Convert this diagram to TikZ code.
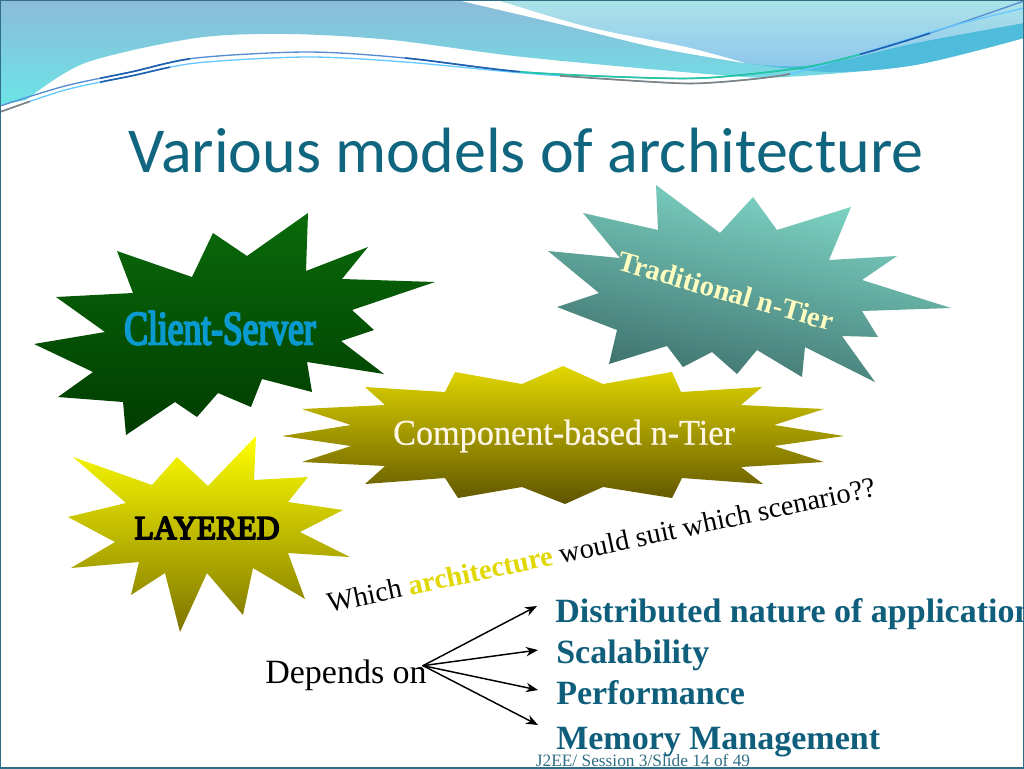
\documentclass[tikz,border=0pt]{standalone}
\usepackage{fontspec}
\setmainfont{Liberation Serif}
\newfontfamily\titlefont{Carlito}
\newfontfamily\heavyfont[FakeBold=4,FakeStretch=0.74]{Liberation Serif}
\newfontfamily\layerfont[FakeBold=5,FakeStretch=0.95]{Liberation Serif}
\newfontfamily\compfont[FakeBold=0.5,FakeStretch=0.95]{Liberation Serif}
\usepackage{pgf,tikz}
\usetikzlibrary{arrows.meta}
\definecolor{framecol}{HTML}{2F6F86}
\definecolor{titlecol}{HTML}{10657F}
\definecolor{listcol}{HTML}{0F5F7C}
\definecolor{archcol}{HTML}{E0D800}
\definecolor{bandcol}{HTML}{4FBCDC}
\definecolor{waveblue}{HTML}{1F5FB0}
\definecolor{wavegreen}{HTML}{1FC8A0}
\newcommand{\upperwave}{plot[smooth] coordinates {(0,106) (65,86) (131,72) (196,58) (307,52) (405,58) (523,72) (654,78) (719,77) (817,65) (915,38) (1024,1)}}
\newcommand{\lowerwave}{plot[smooth] coordinates {(0,112) (65,90) (131,76) (196,63) (307,57) (405,62) (523,73) (654,82) (706,83) (784,75) (850,57) (948,27) (1024,8)}}
\tikzset{
  burst/.style={shading angle=0},
  listitem/.style={font=\bfseries\fontsize{25.5}{28}\selectfont,text=listcol,anchor=west,inner ysep=0pt,inner xsep=13.5pt},
  fanline/.style={-{Stealth[length=9pt,width=7pt]},line width=1.1pt,black}
}
\begin{document}
\begin{tikzpicture}
    [line cap=round,line join=round,x=0.75pt,y=-0.75pt]
\useasboundingbox (0,0) rectangle (1024,768);
\clip (0,0) rectangle (1024,768);
%background with the waves
\fill[white] (0,0) rectangle (1024,768);
\shade[top color={rgb,255:red,139;green,187;blue,216},bottom color={rgb,255:red,108;green,228;blue,230}]
  (0,0) -- (0,105) -- plot[smooth] coordinates {(26,100) (85,63) (196,38) (288,34) (392,40) (523,57) (719,75) (784,77) (915,65) (1024,38)} -- (1024,0) -- cycle;
\fill[bandcol] plot[smooth] coordinates {(745,63) (817,65) (915,43) (1024,23)} -- (1024,38) -- plot[smooth] coordinates {(1024,38) (915,65) (830,72) (745,63)} -- cycle;
\shade[top color={rgb,255:red,171;green,227;blue,232},bottom color={rgb,255:red,142;green,198;blue,238}]
  plot[smooth] coordinates {(497,0) (588,27) (686,47) (745,63) (817,65) (915,43) (1024,23)} -- (1024,0) -- cycle;
\fill[white] plot[smooth] coordinates {(457,0) (555,23) (653,47) (738,62)} -- plot[smooth] coordinates {(745,63) (686,47) (588,27) (497,0)} -- cycle;
%the thin lines, recoloured piece by piece
\draw[cyan!50!blue!70!white,line width=1pt] \upperwave;
\draw[blue!35!cyan!60!white,line width=1pt] \lowerwave;
\foreach \xa/\xb/\wavecol in {100/190/waveblue,405/520/waveblue,520/860/wavegreen,860/930/waveblue}{
  \begin{scope}
    \clip (\xa,0) rectangle (\xb,130);
    \draw[\wavecol,line width=1.2pt] \upperwave;
  \end{scope}
}
\foreach \xa/\xb/\wavecol in {0/30/gray,560/790/gray,100/170/waveblue}{
  \begin{scope}
    \clip (\xa,0) rectangle (\xb,130);
    \draw[\wavecol,line width=1.2pt] \lowerwave;
  \end{scope}
}
\draw[framecol,line width=1pt] (0,0) rectangle (1024,768);
%the title
\node (title) at (526,151) [inner sep=0pt,text=titlecol] {\titlefont\fontsize{48}{54}\selectfont Various models of architecture};
%the stars
\shade[top color={rgb,255:red,130;green,220;blue,203},bottom color={rgb,255:red,61;green,111;blue,107},shading angle=-12]
  (656,185)--(658,230)--(583,213)--(620,258)--(548,251)--(599,293)--(557,307)--(617,330)--(609,364)--(667,346)--(683,367)--(712,352)--(737,374)--(757,350)--(802,377)--(805,347)--(875,382)--(842,336)--(878,337)--(862,311)--(951,308)--(862,280)--(897,256)--(829,260)--(851,207)--(777,230)--(753,197)--(720,233)--cycle;
\shade[burst,top color={rgb,255:red,10;green,106;blue,10},bottom color={rgb,255:red,0;green,60;blue,0}]
  (308,213)--(306,271)--(368,247)--(342,279)--(435,282)--(352,310)--(374,330)--(341,341)--(384,374)--(307,362)--(312,392)--(262,379)--(251,407)--(218,393)--(197,417)--(175,402)--(126,435)--(123,402)--(58,397)--(93,372)--(34,344)--(105,332)--(56,297)--(133,293)--(117,251)--(192,277)--(213,233)--(247,256)--cycle;
\shade[burst,top color={rgb,255:red,255;green,255;blue,0},bottom color={rgb,255:red,125;green,116;blue,0}]
  (256,436)--(254,480)--(308,477)--(288,502)--(343,510)--(300,532)--(350,557)--(288,553)--(305,599)--(253,568)--(243,615)--(207,573)--(180,632)--(165,573)--(131,595)--(139,562)--(71,568)--(115,542)--(68,517)--(126,503)--(73,457)--(152,485)--(177,457)--(208,486)--cycle;
\shade[burst,top color={rgb,255:red,226;green,216;blue,0},bottom color={rgb,255:red,95;green,84;blue,0}]
  (563,366)--(603,384)--(672,372)--(681,392)--(762,387)--(741,405)--(824,409)--(774,425)--(844,436)--(774,446)--(824,462)--(741,467)--(763,484)--(682,478)--(672,498)--(603,487)--(565,504)--(522,487)--(458,498)--(445,478)--(365,484)--(385,466)--(302,462)--(351,446)--(282,436)--(351,425)--(302,409)--(385,405)--(365,387)--(445,392)--(455,372)--(522,384)--cycle;
%the labels
\node (client) at (220,328) [inner sep=0pt,text={rgb,255:red,10;green,154;blue,208}] {\heavyfont\fontsize{36}{40}\selectfont Client-Server};
\node (traditional) at (726,291) [inner sep=0pt,rotate=-16,text={rgb,255:red,255;green,253;blue,192}] {\bfseries\fontsize{21.5}{24}\selectfont Traditional n-Tier};
\node (component) at (564,436) [inner sep=0pt,text={rgb,255:red,255;green,246;blue,230}] {\compfont\fontsize{27}{30}\selectfont Component-based n-Tier};
\node (layered) at (207,528) [inner sep=0pt,text=black] {\layerfont\fontsize{25}{28}\selectfont LAYERED};
\node (which) at (601,545) [inner sep=0pt,rotate=12,text=black] {\fontsize{21.3}{24}\selectfont Which {\bfseries\color{archcol}architecture} would suit which scenario??};
%depends on and the arrows
\node (depends) at (346,675) [inner sep=0pt,text=black] {\fontsize{25.5}{28}\selectfont Depends on};
\node (dist) at (537,614) [listitem] {Distributed nature of application};
\node (scal) at (538,655) [listitem] {Scalability};
\node (perf) at (538,693) [listitem] {Performance};
\node (mem) at (538,742) [listitem] {Memory Management};
\draw[fanline] ([shift={(-3pt,7pt)}]depends.east) -- ([yshift=6pt]dist.west);
\draw[fanline] ([shift={(-3pt,7pt)}]depends.east) -- ([yshift=3.75pt]scal.west);
\draw[fanline] ([shift={(-3pt,7pt)}]depends.east) -- ([yshift=2.25pt]perf.west);
\draw[fanline] ([shift={(-3pt,7pt)}]depends.east) -- ([yshift=12.75pt]mem.west);
\node (footer) at (643,760) [inner sep=0pt,text=framecol] {\fontsize{13}{15}\selectfont J2EE/ Session 3/Slide 14 of 49};
 \end{tikzpicture}
\end{document}
